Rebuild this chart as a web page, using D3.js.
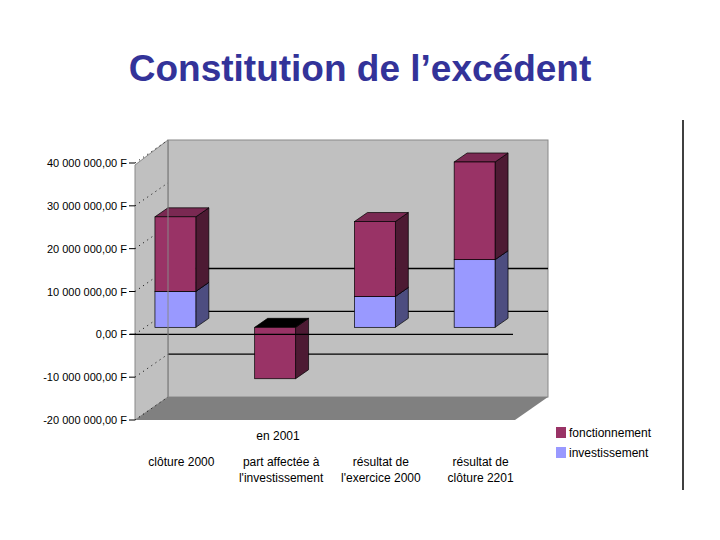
<!DOCTYPE html><html><head><meta charset="utf-8"><script src="https://d3js.org/d3.v7.min.js"></script>
<style>body{margin:0;background:#fff}text{font-family:"Liberation Sans",Arial,sans-serif}</style></head><body>
<svg id="c" width="720" height="540"></svg>
<script>
const categories=[["clôture 2000",""],["part affectée à","l'investissement"],["résultat de","l'exercice 2000"],["résultat de","clôture 2201"]];
const investissement=[8.4e6,0,7.2e6,15.8e6];
const fonctionnement=[17.4e6,-12e6,17.5e6,22.8e6];
const ticks=[40e6,30e6,20e6,10e6,0,-10e6,-20e6];
const tickLabels=["40 000 000,00 F","30 000 000,00 F","20 000 000,00 F","10 000 000,00 F","0,00 F","-10 000 000,00 F","-20 000 000,00 F"];
const seriesNames=["fonctionnement","investissement"];
const svg=d3.select("#c");
svg.append("text").attr("x",360).attr("y",81).attr("text-anchor","middle").attr("font-size",37).attr("font-weight","bold").attr("fill","#333399").text("Constitution de l’excédent");
svg.append("line").attr("x1",683).attr("x2",683).attr("y1",120).attr("y2",490).attr("stroke","#000").attr("stroke-width",1.5);
const y=d3.scaleLinear().domain([-20e6,40e6]).range([420,163]);
const DX=33,DY=-23;
const x=d3.scaleBand().domain(d3.range(4)).range([135,515]).paddingInner(0.59).paddingOuter(0.2);
// walls
svg.append("rect").attr("x",135+DX).attr("y",140).attr("width",380).attr("height",y(-20e6)+DY-140).attr("fill","#c0c0c0").attr("stroke","#888");
svg.append("polygon").attr("points",[[135,165],[135+DX,140],[135+DX,y(-20e6)+DY],[135,y(-20e6)]].join(" ")).attr("fill","#c0c0c0").attr("stroke","#888");
svg.append("polygon").attr("points",[[135,y(-20e6)],[135+DX,y(-20e6)+DY],[515+DX,y(-20e6)+DY],[515,y(-20e6)]].join(" ")).attr("fill","#808080");
// side wall dotted lines and ticks
ticks.forEach((t,i)=>{
  svg.append("line").attr("x1",135).attr("x2",135+DX).attr("y1",y(t)).attr("y2",y(t)+DY).attr("stroke","#000").attr("stroke-dasharray","1,4");
  svg.append("line").attr("x1",129).attr("x2",135).attr("y1",y(t)).attr("y2",y(t)).attr("stroke","#000");
  svg.append("text").attr("x",127).attr("y",y(t)+4).attr("text-anchor","end").attr("font-size",11).text(tickLabels[i]);
});
// back gridlines
[10e6,0,-10e6].forEach(t=>svg.append("line").attr("x1",135+DX).attr("x2",515+DX).attr("y1",y(t)+DY).attr("y2",y(t)+DY).attr("stroke","#000").attr("stroke-width",1.3));
// bars
const bdx=13,bdy=-9,oy=-7;
const cols={f:["#993366","#4d1a33","#7a2952"],i:["#9999ff","#4d4d80","#7a7acc"]};
function box(x0,w,v0,v1,c,topc){
  const ya=y(Math.max(v0,v1))+oy, yb=y(Math.min(v0,v1))+oy;
  svg.append("polygon").attr("points",[[x0+w,ya],[x0+w+bdx,ya+bdy],[x0+w+bdx,yb+bdy],[x0+w,yb]].join(" ")).attr("fill",c[1]).attr("stroke","#000").attr("stroke-width",0.7);
  svg.append("polygon").attr("points",[[x0,ya],[x0+bdx,ya+bdy],[x0+w+bdx,ya+bdy],[x0+w,ya]].join(" ")).attr("fill",topc||c[2]).attr("stroke","#000").attr("stroke-width",0.7);
  svg.append("rect").attr("x",x0).attr("y",ya).attr("width",w).attr("height",yb-ya).attr("fill",c[0]).attr("stroke","#000").attr("stroke-width",0.7);
}
d3.range(4).forEach(i=>{
  const x0=x(i),w=x.bandwidth();
  if(investissement[i]>0) box(x0,w,0,investissement[i],cols.i);
  const f=fonctionnement[i];
  if(f<0) box(x0,w,0,f,cols.f,"#000");
  else box(x0,w,investissement[i],investissement[i]+f,cols.f);
});
svg.append("line").attr("x1",130).attr("x2",513).attr("y1",y(0)).attr("y2",y(0)).attr("stroke","#000").attr("stroke-width",1.3);
svg.append("line").attr("x1",135+DX).attr("x2",135+DX).attr("y1",140).attr("y2",y(-20e6)+DY).attr("stroke","#888");
// labels
svg.append("text").attr("x",278).attr("y",440).attr("text-anchor","middle").attr("font-size",12).text("en 2001");
categories.forEach((c,i)=>{const cx=x(i)+x.bandwidth()/2+6;
  c.forEach((s,j)=>svg.append("text").attr("x",cx).attr("y",466+j*16).attr("text-anchor","middle").attr("font-size",12).text(s));});
// legend
seriesNames.forEach((s,i)=>{
  svg.append("rect").attr("x",556).attr("y",427+i*20).attr("width",10).attr("height",11).attr("fill",i?"#9999ff":"#993366");
  svg.append("text").attr("x",569).attr("y",437+i*20).attr("font-size",12).text(s);
});
</script></body></html>
